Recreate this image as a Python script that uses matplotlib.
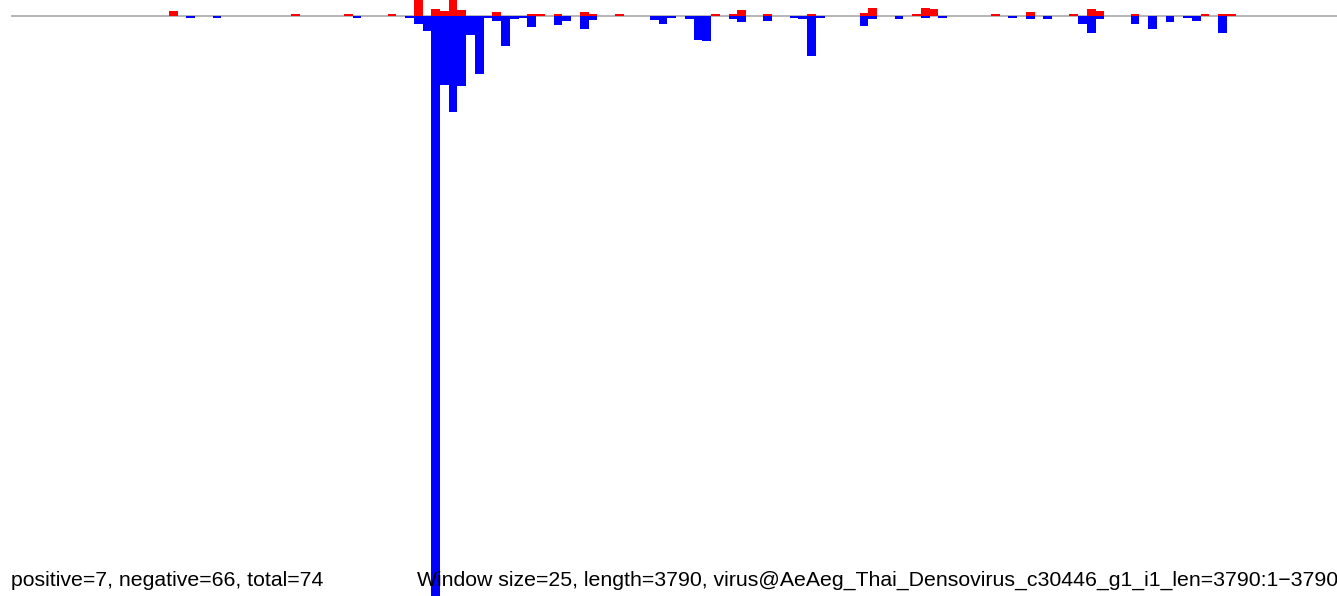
import matplotlib
matplotlib.use('Agg')
import matplotlib.pyplot as plt

# window size 25 nt, sequence length 3790
window = 25
seq_len = 3790

# window index -> depth of sense (red) and antisense (blue) reads
pos_bins = [19, 33, 39, 44, 47, 49, 50, 51, 52, 56, 60, 61, 63, 66, 67, 70, 81, 83, 84,
            87, 92, 98, 99, 104, 105, 106, 113, 117, 122, 124, 125, 129, 137, 139, 140]
pos_vals = [4.5, 1.5, 1.5, 1.5, 20, 6.5, 4.5, 20, 5.5, 3.5, 1.5, 1.5, 1.5, 3.5, 1.5, 1.5, 1.5, 1.5, 5.5,
            1.5, 1.5, 2.5, 7.5, 1.5, 7.5, 6.5, 1.5, 3.5, 1.5, 6.5, 4.5, 1.5, 1.5, 1.5, 1.5]

neg_bins = [21, 24, 40, 46, 47, 48, 49, 50, 51, 52, 53, 54, 55, 56, 57, 58, 59, 60, 63, 64,
            66, 67, 74, 75, 76, 78, 79, 80, 83, 84, 87, 90, 91, 92, 93, 98, 99, 102, 105, 107,
            115, 117, 119, 123, 124, 125, 129, 131, 133, 135, 136, 139]
neg_vals = [2.5, 2.5, 2.5, 2.5, 8.5, 15.5, 600, 69.5, 96.5, 70.5, 19.5, 58.5, 2.5, 5.5, 30.5, 3, 2.5, 11.5, 9.5, 5.5,
            13.5, 4.5, 4.5, 8.5, 2.5, 3.5, 24.5, 25.5, 3.5, 6.5, 5.5, 2.5, 3.5, 40.5, 2.5, 10.5, 3.5, 3.5, 2.5, 2.5,
            2.5, 3.5, 3.5, 8.5, 17.5, 3.5, 8.5, 13.5, 6.5, 2.5, 5.5, 17.5]

left_text = 'positive=7, negative=66, total=74'
title_text = 'Window size=25, length=3790, virus@AeAeg_Thai_Densovirus_c30446_g1_i1_len=3790:1\u22123790'

plt.rcParams['font.family'] = ['Liberation Sans', 'DejaVu Sans']

W, H = 1337, 596
fig = plt.figure(figsize=(W / 100, H / 100), dpi=100)
ax = fig.add_axes([11 / W, 0, 1 - 11 / W, 1])

ax.axhline(0, color='#a9a9a9', lw=1.2, zorder=1)
ax.bar([b * window for b in pos_bins], pos_vals, width=window, align='edge',
       color='red', linewidth=0, zorder=2)
ax.bar([b * window for b in neg_bins], [-v for v in neg_vals], width=window, align='edge',
       color='blue', linewidth=0, zorder=2)

ax.set_xlim(23.2, 3815)
ax.set_ylim(-580.5, 15.5)
ax.axis('off')

fig.text(11 / W, (H - 586) / H, left_text, fontsize=15.3, va='baseline', ha='left', zorder=5)
fig.text(417 / W, (H - 586) / H, title_text, fontsize=15.3, va='baseline', ha='left', zorder=5)

fig.savefig('out.png', dpi=100)
